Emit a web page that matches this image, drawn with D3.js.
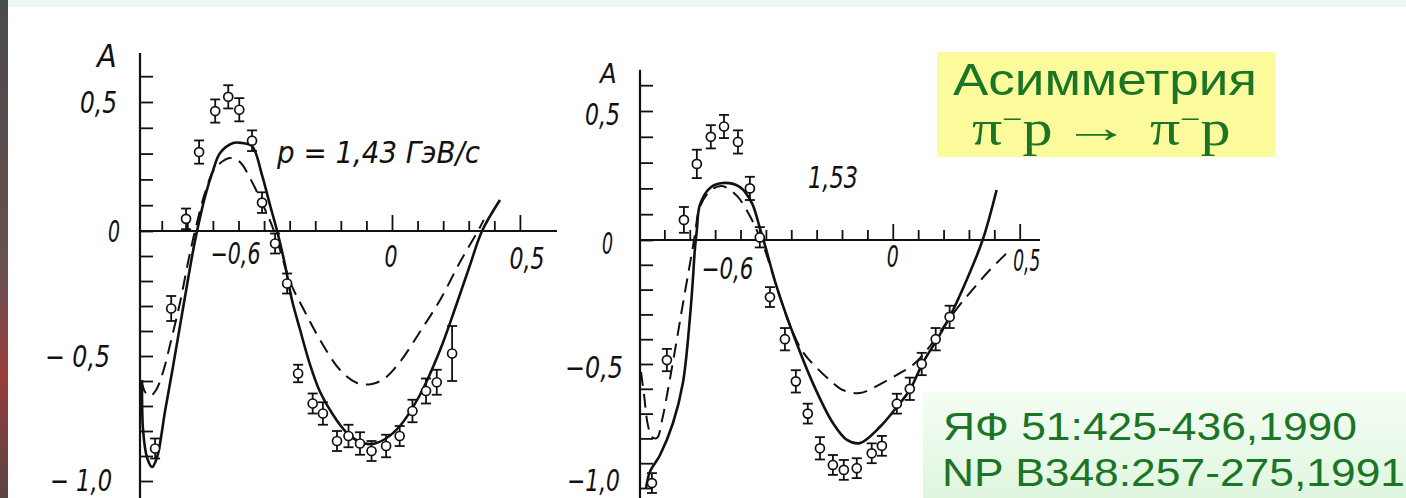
<!DOCTYPE html>
<html>
<head>
<meta charset="utf-8">
<script src="https://cdn.jsdelivr.net/npm/d3@7"></script>
<style>
  body { margin: 0; background: #fff; }
  svg { display: block; }
</style>
</head>
<body>
<div id="chart"></div>
<script>
// ---- data: [cos theta, A, error] ----
const leftPoints = [
  [-0.926, -0.87, 0.04], [-0.863, -0.31, 0.05], [-0.805, 0.047, 0.04],
  [-0.754, 0.306, 0.045], [-0.691, 0.465, 0.045], [-0.64, 0.52, 0.045],
  [-0.597, 0.47, 0.045], [-0.547, 0.35, 0.04], [-0.508, 0.11, 0.04],
  [-0.457, -0.05, 0.04], [-0.41, -0.21, 0.04], [-0.367, -0.57, 0.035],
  [-0.31, -0.69, 0.04], [-0.27, -0.73, 0.045], [-0.215, -0.84, 0.04],
  [-0.17, -0.82, 0.045], [-0.125, -0.85, 0.045], [-0.08, -0.88, 0.04],
  [-0.023, -0.86, 0.045], [0.03, -0.82, 0.04], [0.08, -0.72, 0.045],
  [0.133, -0.64, 0.05], [0.175, -0.605, 0.05], [0.235, -0.49, 0.11]
];
const leftSolid = [
  [-0.977, -0.596], [-0.973, -0.796], [-0.957, -0.908], [-0.9375, -0.944],
  [-0.918, -0.904], [-0.887, -0.72], [-0.859, -0.56], [-0.82, -0.328],
  [-0.777, -0.076], [-0.762, 0], [-0.73, 0.136], [-0.699, 0.236],
  [-0.672, 0.302], [-0.621, 0.341], [-0.586, 0.341], [-0.547, 0.329],
  [-0.508, 0.217], [-0.477, 0.101], [-0.449, 0], [-0.418, -0.136],
  [-0.391, -0.276], [-0.359, -0.396], [-0.32, -0.536], [-0.281, -0.644],
  [-0.23, -0.736], [-0.176, -0.808], [-0.125, -0.844], [-0.078, -0.852],
  [-0.027, -0.832], [0.031, -0.78], [0.109, -0.656], [0.188, -0.476],
  [0.254, -0.288], [0.305, -0.136], [0.352, 0], [0.422, 0.12]
];
const leftDashed = [
  [-0.98, -0.596], [-0.965, -0.644], [-0.945, -0.66], [-0.922, -0.636],
  [-0.895, -0.564], [-0.863, -0.436], [-0.828, -0.284], [-0.797, -0.124],
  [-0.77, 0], [-0.73, 0.151], [-0.691, 0.244], [-0.633, 0.283],
  [-0.594, 0.267], [-0.555, 0.205], [-0.508, 0.109], [-0.461, 0],
  [-0.398, -0.204], [-0.34, -0.324], [-0.281, -0.436], [-0.203, -0.556],
  [-0.137, -0.608], [-0.078, -0.612], [-0.027, -0.588], [0.031, -0.524],
  [0.109, -0.404], [0.188, -0.276], [0.266, -0.124], [0.336, 0], [0.359, 0.043]
];

const rightPoints = [
  [-0.949, -0.98, 0.04], [-0.89, -0.484, 0.045], [-0.823, 0.078, 0.05],
  [-0.772, 0.295, 0.055], [-0.717, 0.4, 0.045], [-0.665, 0.44, 0.045],
  [-0.61, 0.38, 0.045], [-0.563, 0.2, 0.045], [-0.524, 0.01, 0.04],
  [-0.484, -0.23, 0.04], [-0.425, -0.4, 0.045], [-0.382, -0.57, 0.045],
  [-0.335, -0.7, 0.04], [-0.287, -0.84, 0.045], [-0.236, -0.907, 0.04],
  [-0.193, -0.927, 0.04], [-0.142, -0.92, 0.04], [-0.083, -0.86, 0.04],
  [-0.043, -0.83, 0.04], [0.016, -0.66, 0.04], [0.067, -0.6, 0.045],
  [0.114, -0.5, 0.045], [0.169, -0.4, 0.045], [0.224, -0.31, 0.045]
];
const rightSolid = [
  [-0.972, -1.0], [-0.957, -0.935], [-0.917, -0.867], [-0.866, -0.738],
  [-0.827, -0.577], [-0.799, -0.31], [-0.787, -0.149], [-0.78, -0.04],
  [-0.772, 0.039], [-0.76, 0.136], [-0.72, 0.202], [-0.669, 0.221],
  [-0.602, 0.205], [-0.555, 0.143], [-0.524, 0.047], [-0.504, -0.02],
  [-0.457, -0.19], [-0.394, -0.375], [-0.315, -0.577], [-0.236, -0.738],
  [-0.181, -0.806], [-0.13, -0.819], [-0.051, -0.754], [0.016, -0.673],
  [0.067, -0.605], [0.118, -0.496], [0.173, -0.403], [0.224, -0.31],
  [0.291, -0.161], [0.354, 0], [0.409, 0.194]
];
const rightDashed = [
  [-0.992, -0.532], [-0.98, -0.625], [-0.965, -0.746], [-0.949, -0.794],
  [-0.929, -0.798], [-0.909, -0.726], [-0.886, -0.605], [-0.858, -0.444],
  [-0.831, -0.282], [-0.807, -0.141], [-0.791, -0.048], [-0.78, 0.019],
  [-0.76, 0.128], [-0.72, 0.19], [-0.673, 0.209], [-0.614, 0.171],
  [-0.563, 0.093], [-0.531, 0.027], [-0.504, -0.04], [-0.457, -0.19],
  [-0.406, -0.343], [-0.354, -0.452], [-0.299, -0.516], [-0.248, -0.565],
  [-0.197, -0.605], [-0.13, -0.617], [-0.079, -0.597], [0.016, -0.544],
  [0.079, -0.504], [0.134, -0.444], [0.205, -0.343], [0.264, -0.262],
  [0.323, -0.19], [0.382, -0.121], [0.429, -0.073], [0.469, -0.032]
];

// tick values and labels
const yTicks = d3.range(-10, 7).map(i => i / 10);
const xTicks = d3.range(-9, 6).map(i => i / 10);
const yLabelValues = [0.5, 0, -0.5, -1];
const yLabelsLeft = ["0,5", "0", "\u2212 0,5", "\u2212 1,0"];
const yLabelsRight = ["0,5", "0", "\u22120,5", "\u22121,0"];
const xLabelValues = [-0.6, 0, 0.5];
const xLabels = ["\u22120,6", "0", "0,5"];

const width = 1406;
const height = 498;
const plotFont = "'DejaVu Sans Condensed', 'DejaVu Sans', sans-serif";
const green = "#1c7426";

const svg = d3.select("#chart")
  .append("svg")
  .attr("width", width)
  .attr("height", height);

// scan remnants: light strip at the top, dark strip at the left edge
const defs = svg.append("defs");
const edge = defs.append("linearGradient").attr("id", "edge")
  .attr("x1", 0).attr("x2", 0).attr("y1", 0).attr("y2", 1);
edge.append("stop").attr("offset", "0%").attr("stop-color", "#4a4a4a");
edge.append("stop").attr("offset", "55%").attr("stop-color", "#6a5050");
edge.append("stop").attr("offset", "75%").attr("stop-color", "#9c3a3a");
edge.append("stop").attr("offset", "100%").attr("stop-color", "#5a4545");
const boxGrad = defs.append("linearGradient").attr("id", "refbox")
  .attr("x1", 0).attr("x2", 0).attr("y1", 0).attr("y2", 1);
boxGrad.append("stop").attr("offset", "0%").attr("stop-color", "#f4fdf4");
boxGrad.append("stop").attr("offset", "100%").attr("stop-color", "#dff6df");

svg.append("rect").attr("x", 0).attr("y", 0).attr("width", width).attr("height", 7)
  .attr("fill", "#eaf7f2");
svg.append("rect").attr("x", 0).attr("y", 0).attr("width", 8).attr("height", height)
  .attr("fill", "url(#edge)");

// one scanned panel
function drawPanel(p) {
  const g = svg.append("g");
  const x0 = p.x.range()[0];
  const y0 = p.y(0);

  // y axis
  g.append("line")
    .attr("x1", x0).attr("x2", x0)
    .attr("y1", p.y(p.yTop)).attr("y2", p.y(-1.1))
    .attr("stroke", "#111").attr("stroke-width", 2.2);
  g.append("g")
    .attr("transform", `translate(${x0},0)`)
    .call(d3.axisRight(p.y).tickValues(yTicks).tickSize(13).tickFormat(""))
    .call(a => a.select(".domain").remove())
    .call(a => a.selectAll("line").attr("stroke", "#111").attr("stroke-width", 1.8));

  // x axis with ticks pointing up
  g.append("line")
    .attr("x1", x0).attr("x2", p.x.range()[1])
    .attr("y1", y0).attr("y2", y0)
    .attr("stroke", "#111").attr("stroke-width", 2.2);
  g.append("g")
    .attr("transform", `translate(0,${y0})`)
    .call(d3.axisTop(p.x).tickValues(xTicks).tickSize(10).tickFormat(""))
    .call(a => a.select(".domain").remove())
    .call(a => a.selectAll("line")
      .attr("stroke", "#111").attr("stroke-width", 1.8)
      .attr("y2", d => (Math.abs(d) < 1e-9 || Math.abs(d - 0.5) < 1e-9) ? -16 : -10));

  // tick labels
  const lab = g.append("g")
    .attr("font-family", plotFont)
    .attr("font-style", "italic")
    .attr("font-size", 30)
    .attr("fill", "#111");
  lab.selectAll(".ylab")
    .data(yLabelValues)
    .join("text")
    .attr("class", "ylab")
    .attr("text-anchor", "end")
    .attr("x", (d, i) => p.yLabelRight[i])
    .attr("y", d => Math.min(p.y(d) + p.yLabelDy, height - 7))
    .attr("textLength", (d, i) => p.yLabelLen[i])
    .attr("lengthAdjust", "spacingAndGlyphs")
    .text((d, i) => p.yLabels[i]);
  lab.selectAll(".xlab")
    .data(xLabelValues)
    .join("text")
    .attr("class", "xlab")
    .attr("text-anchor", "middle")
    .attr("x", (d, i) => p.x(d) + p.xLabelDx[i])
    .attr("y", (d, i) => p.xLabelBase[i])
    .attr("textLength", (d, i) => p.xLabelLen[i])
    .attr("lengthAdjust", "spacingAndGlyphs")
    .text((d, i) => xLabels[i]);
  lab.append("text")
    .attr("x", p.aPos[0]).attr("y", p.aPos[1])
    .attr("font-size", p.aSize)
    .text("A");
  lab.append("text")
    .attr("x", p.note[0]).attr("y", p.note[1])
    .attr("textLength", p.note[2])
    .attr("lengthAdjust", "spacingAndGlyphs")
    .text(p.noteText);

  // curves
  const line = d3.line()
    .x(d => p.x(d[0]))
    .y(d => p.y(d[1]))
    .curve(d3.curveCatmullRom.alpha(0.5));
  g.append("path").datum(p.dashed)
    .attr("d", line).attr("fill", "none")
    .attr("stroke", "#111").attr("stroke-width", 2)
    .attr("stroke-dasharray", "14,8");
  g.append("path").datum(p.solid)
    .attr("d", line).attr("fill", "none")
    .attr("stroke", "#111").attr("stroke-width", 2.6);

  // data points with error bars
  const pts = g.selectAll(".pt").data(p.points).join("g").attr("class", "pt");
  pts.append("line")
    .attr("x1", d => p.x(d[0])).attr("x2", d => p.x(d[0]))
    .attr("y1", d => p.y(d[1] + d[2])).attr("y2", d => p.y(d[1] - d[2]))
    .attr("stroke", "#111").attr("stroke-width", 1.8);
  [1, -1].forEach(s => {
    pts.append("line")
      .attr("x1", d => p.x(d[0]) - 5).attr("x2", d => p.x(d[0]) + 5)
      .attr("y1", d => p.y(d[1] + s * d[2])).attr("y2", d => p.y(d[1] + s * d[2]))
      .attr("stroke", "#111").attr("stroke-width", 1.8);
  });
  pts.append("circle")
    .attr("cx", d => p.x(d[0])).attr("cy", d => p.y(d[1]))
    .attr("r", 4.5)
    .attr("fill", "#fff").attr("stroke", "#111").attr("stroke-width", 1.7);
}

drawPanel({
  x: d3.scaleLinear().domain([-0.985, 0.645]).range([140, 557]),
  y: d3.scaleLinear().domain([-1, 0, 0.5]).range([481, 231, 102]),
  yTop: 0.69,
  points: leftPoints, solid: leftSolid, dashed: leftDashed,
  yLabels: yLabelsLeft,
  yLabelRight: [117, 120, 110, 112],
  yLabelLen: [37, 12, 65, 62],
  yLabelDy: 11,
  xLabelDx: [-3, -1, 7],
  xLabelBase: [264, 267, 269],
  xLabelLen: [50, 13, 35],
  aPos: [97, 67], aSize: 32,
  note: [277, 163, 203], noteText: "p = 1,43  \u0413\u044d\u0412/c"
});

drawPanel({
  x: d3.scaleLinear().domain([-0.996, 0.58]).range([640, 1040]),
  y: d3.scaleLinear().domain([-1, 0, 0.5]).range([488, 240, 111]),
  yTop: 0.66,
  points: rightPoints, solid: rightSolid, dashed: rightDashed,
  yLabels: yLabelsRight,
  yLabelRight: [620, 613, 623, 620],
  yLabelLen: [35, 11, 58, 53],
  yLabelDy: 14,
  xLabelDx: [-13, 0, 7],
  xLabelBase: [279, 267, 271],
  xLabelLen: [52, 12, 27],
  aPos: [600, 83], aSize: 27,
  note: [808, 188, 50], noteText: "1,53"
});

// yellow title box
svg.append("rect")
  .attr("x", 937).attr("y", 52).attr("width", 338).attr("height", 105)
  .attr("fill", "#fbfb9c");
svg.append("text")
  .attr("x", 953).attr("y", 95)
  .attr("font-family", "'Liberation Sans', Arial, sans-serif")
  .attr("font-size", 45)
  .attr("fill", green)
  .attr("textLength", 304)
  .attr("lengthAdjust", "spacingAndGlyphs")
  .text("\u0410\u0441\u0438\u043c\u043c\u0435\u0442\u0440\u0438\u044f");

// reaction line, stretched horizontally like the rest of the slide
const serif = "'Liberation Serif', 'Times New Roman', serif";
const stretch = 1.2;
const reaction = svg.append("g")
  .attr("transform", `translate(972,145) scale(${stretch},1)`)
  .attr("font-family", serif)
  .attr("font-size", 50)
  .attr("fill", green);
[0, (1150 - 972) / stretch].forEach(px => {
  const t = reaction.append("text").attr("x", px);
  t.append("tspan").text("\u03c0");
  t.append("tspan").attr("dy", -16).attr("font-size", 30).text("\u2212");
  t.append("tspan").attr("dy", 16).text("p");
});
svg.append("text")
  .attr("transform", "translate(1062,142) scale(1.55,1)")
  .attr("font-family", serif)
  .attr("font-size", 44)
  .attr("fill", green)
  .text("\u2192");

// reference box
svg.append("rect")
  .attr("x", 923).attr("y", 392).attr("width", width - 923).attr("height", height - 392)
  .attr("fill", "url(#refbox)");
const refs = [
  ["\u042f\u0424 51:425-436,1990", 943, 440, 414],
  ["NP B348:257-275,1991", 942, 486, 463]
];
svg.selectAll(".ref")
  .data(refs)
  .join("text")
  .attr("class", "ref")
  .attr("x", d => d[1]).attr("y", d => d[2])
  .attr("font-family", "'Liberation Sans', Arial, sans-serif")
  .attr("font-size", 39)
  .attr("fill", green)
  .attr("textLength", d => d[3])
  .attr("lengthAdjust", "spacingAndGlyphs")
  .text(d => d[0]);
</script>
</body>
</html>
